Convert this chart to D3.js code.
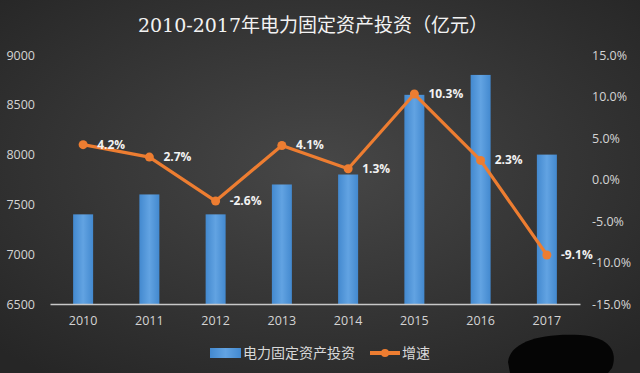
<!DOCTYPE html>
<html>
<head>
<meta charset="utf-8">
<script src="https://cdn.jsdelivr.net/npm/d3@7"></script>
<style>
  body { margin: 0; background: #2b2b2b; }
  svg { display: block; }
</style>
</head>
<body>
<svg id="chart" width="640" height="373"></svg>
<script>
// data
var years = ['2010', '2011', '2012', '2013', '2014', '2015', '2016', '2017']
var invest = [7400, 7600, 7400, 7700, 7800, 8600, 8800, 8000]
var growth = [4.2, 2.7, -2.6, 4.1, 1.3, 10.3, 2.3, -9.1]
var leftTicks = [6500, 7000, 7500, 8000, 8500, 9000]
var rightTicks = [-15, -10, -5, 0, 5, 10, 15]
var titleText = '2010-2017年电力固定资产投资（亿元）'
var legendNames = ['电力固定资产投资', '增速']

var W = 640, H = 373
var svg = d3.select('#chart')
var defs = svg.append('defs')

// background
var bg = defs.append('radialGradient').attr('id', 'bg')
    .attr('cx', '50%').attr('cy', '45%').attr('r', '70%')
bg.append('stop').attr('offset', '0%').attr('stop-color', '#474747')
bg.append('stop').attr('offset', '100%').attr('stop-color', '#262626')
svg.append('rect').attr('width', W).attr('height', H).attr('fill', 'url(#bg)')

var barGrad = defs.append('linearGradient').attr('id', 'barg')
    .attr('x1', 0).attr('x2', 1).attr('y1', 0).attr('y2', 0)
barGrad.append('stop').attr('offset', '0%').attr('stop-color', '#4389cf')
barGrad.append('stop').attr('offset', '50%').attr('stop-color', '#62a3e2')
barGrad.append('stop').attr('offset', '100%').attr('stop-color', '#4389cf')

var plot = {left: 50, right: 580, top: 55, bottom: 304}

var x = d3.scaleBand().domain(years).range([plot.left, plot.right])
var yL = d3.scaleLinear().domain([6500, 9000]).range([plot.bottom, plot.top])
var yR = d3.scaleLinear().domain([-15, 15]).range([plot.bottom, plot.top])

// title
svg.append('text')
    .attr('x', 313).attr('y', 32)
    .attr('text-anchor', 'middle')
    .attr('fill', '#f2f2f2')
    .attr('font-family', 'DejaVu Serif, Noto Sans CJK SC, serif')
    .attr('font-size', '19px')
    .text(titleText)

var tickFont = 'Open Sans, Noto Sans, sans-serif'

// left axis
var leftAxis = d3.axisLeft(yL).tickValues(leftTicks).tickSize(0).tickFormat(d3.format('d'))
var gl = svg.append('g').attr('transform', 'translate(38,0)').call(leftAxis)
gl.select('.domain').remove()
gl.selectAll('text').attr('fill', '#d4d4d4').attr('font-size', '12.5px')
    .attr('font-family', tickFont).attr('dx', 0)

// right axis
var rightAxis = d3.axisRight(yR).tickValues(rightTicks).tickSize(0)
    .tickFormat(function(d){ return d.toFixed(1) + '%' })
var gr = svg.append('g').attr('transform', 'translate(592,0)').call(rightAxis)
gr.select('.domain').remove()
gr.selectAll('text').attr('fill', '#d4d4d4').attr('font-size', '12.5px')
    .attr('font-family', tickFont).attr('dx', 0).attr('x', 0)

// bars
var bw = 20
svg.selectAll('.bar').data(invest).enter().append('rect')
    .attr('class', 'bar')
    .attr('x', function(d, i){ return x(years[i]) + x.bandwidth() / 2 - bw / 2 })
    .attr('y', function(d){ return yL(d) })
    .attr('width', bw)
    .attr('height', function(d){ return plot.bottom - yL(d) })
    .attr('fill', 'url(#barg)')

// baseline
var bottomAxis = d3.axisBottom(x).tickSize(0)
var gb = svg.append('g').attr('transform', 'translate(0,' + plot.bottom + ')').call(bottomAxis)
gb.select('.domain').attr('stroke', '#c8c8c8').attr('stroke-width', 1.5)
gb.selectAll('text').attr('fill', '#d4d4d4').attr('font-size', '12.5px')
    .attr('font-family', tickFont).attr('dy', '1.4em')

// growth line
var cx = function(d, i){ return x(years[i]) + x.bandwidth() / 2 }
var line = d3.line().x(cx).y(function(d){ return yR(d) })
svg.append('path').datum(growth)
    .attr('d', line)
    .attr('fill', 'none')
    .attr('stroke', '#ed7d31')
    .attr('stroke-width', 3.2)
    .attr('stroke-linejoin', 'round')
svg.selectAll('.pt').data(growth).enter().append('circle')
    .attr('cx', cx).attr('cy', function(d){ return yR(d) })
    .attr('r', 4.5).attr('fill', '#ed7d31')

svg.selectAll('.lbl').data(growth).enter().append('text')
    .attr('x', function(d, i){ return cx(d, i) + 14 })
    .attr('y', function(d){ return yR(d) + 4 })
    .attr('fill', '#f2f2f2')
    .attr('font-weight', 'bold')
    .attr('font-size', '12px')
    .attr('font-family', tickFont)
    .text(function(d){ return d.toFixed(1) + '%' })

// legend
var lg = svg.append('g')
lg.append('rect').attr('x', 210).attr('y', 348).attr('width', 31).attr('height', 10).attr('fill', 'url(#barg)')
lg.append('text').attr('x', 243).attr('y', 358).attr('fill', '#d9d9d9')
    .attr('font-size', '14px').attr('font-family', 'Noto Sans CJK SC, sans-serif')
    .text(legendNames[0])
lg.append('line').attr('x1', 370).attr('x2', 400).attr('y1', 353).attr('y2', 353)
    .attr('stroke', '#ed7d31').attr('stroke-width', 4)
lg.append('circle').attr('cx', 385).attr('cy', 353).attr('r', 4).attr('fill', '#ed7d31')
lg.append('text').attr('x', 402).attr('y', 358).attr('fill', '#d9d9d9')
    .attr('font-size', '14px').attr('font-family', 'Noto Sans CJK SC, sans-serif')
    .text(legendNames[1])

// blacked-out watermark
svg.append('path')
    .attr('d', 'M508,362 C510,342 540,333 580,335 C610,337 618,352 612,368 L608,373 L510,373 Z')
    .attr('fill', '#050505')
</script>
</body>
</html>
